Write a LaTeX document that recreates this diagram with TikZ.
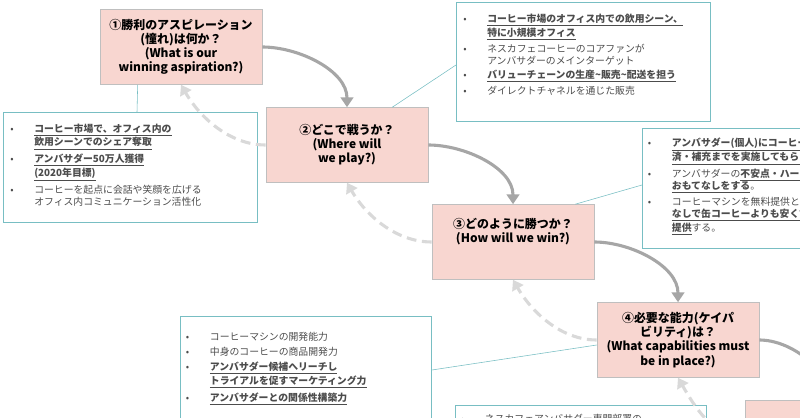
\documentclass[tikz,border=0pt]{standalone}
\usepackage{fontspec}
\setmainfont{Noto Sans CJK JP}
\usetikzlibrary{arrows.meta,calc}
\definecolor{pinkbox}{RGB}{248,214,208}
\definecolor{tealline}{RGB}{120,190,195}
\tikzset{
  stepbox/.style={draw=black!25,fill=pinkbox,minimum width=4.05cm,minimum height=1.875cm,
    align=center,font=\fontsize{8.5}{10}\selectfont\bfseries,inner sep=2pt},
  info/.style={draw=tealline,fill=white,anchor=north west,align=left,text=black!70,
    font=\fontsize{7}{8.6}\selectfont,inner sep=4pt},
  link/.style={tealline,thin},
  go/.style={black!35,line width=2.2pt,-{Triangle[length=7pt,width=9pt]}},
  back/.style={black!15,line width=2.2pt,dash pattern=on 7pt off 4pt,-{Triangle[length=7pt,width=9pt]}}
}
\newcommand{\itm}[1]{\makebox[6mm][l]{\textbullet}\parbox[t]{5.4cm}{#1}\\[2pt]}
\newcommand{\bu}[1]{\textbf{\underline{#1}}}
\begin{document}
\begin{tikzpicture}[x=0.025cm,y=-0.025cm]
\useasboundingbox (0,0) rectangle (800,418);
\clip (0,0) rectangle (800,418);
% step boxes
\node[stepbox] (s1) at (181,47)  {①勝利のアスピレーション\\(憧れ)は何か？\\(What is our\\winning aspiration?)};
\node[stepbox] (s2) at (347,145) {②どこで戦うか？\\(Where will\\we play?)};
\node[stepbox] (s3) at (513,242) {③どのように勝つか？\\(How will we win?)\\[6pt]};
\node[stepbox] (s4) at (678,340) {④必要な能力(ケイパ\\ビリティ)は？\\(What capabilities must\\be in place?)};
\node[stepbox] (s5) at (826,438) {⑤};
% info boxes
\node[info,minimum width=6.35cm,minimum height=2.75cm] (i1) at (3,112) {%
\itm{\bu{コーヒー市場で、オフィス内の}\\\bu{飲用シーンでのシェア奪取}}
\itm{\bu{アンバサダー50万人獲得}\\\bu{(2020年目標)}}
\itm{コーヒーを起点に会話や笑顔を広げる\\オフィス内コミュニケーション活性化}};
\node[info,minimum width=6.35cm,minimum height=2.98cm] (i2) at (456,2) {%
\itm{\bu{コーヒー市場のオフィス内での飲用シーン、}\\\bu{特に小規模オフィス}}
\itm{ネスカフェコーヒーのコアファンが\\アンバサダーのメインターゲット}
\itm{\bu{バリューチェーンの生産\textasciitilde 販売\textasciitilde 配送を担う}}
\itm{ダイレクトチャネルを通じた販売}};
\node[info,minimum width=4.3cm,minimum height=3cm] (i3) at (642,128) {%
\itm{\bu{アンバサダー(個人)にコーヒーマシンの設置・決}\\\bu{済・補充までを実施してもらう}}
\itm{アンバサダーの\bu{不安点・ハードルを取り除く}\\\bu{おもてなしをする}。}
\itm{コーヒーマシンを無料提供とする。\\\bu{なしで缶コーヒーよりも安くておいしいコーヒーを}\\\bu{提供}する。}};
\node[info,minimum width=5.1cm,minimum height=2.9cm] (i4) at (180,316) {%
\itm{コーヒーマシンの開発能力}
\itm{中身のコーヒーの商品開発力}
\itm{\bu{アンバサダー候補へリーチし}\\\bu{トライアルを促すマーケティング力}}
\itm{\bu{アンバサダーとの関係性構築力}}};
\node[info,minimum width=3.7cm,minimum height=1cm] (i5) at (455,405) {%
\itm{ネスカフェアンバサダー専門部署の}};
% links
\draw[link] ($(i1.north west)+(134,0)$) -- ($(s1.south west)+(38,0)$);
\draw[link] ($(i2.north west)+(0,63)$) -- ($(s2.north east)+(-36,0)$);
\draw[link] ($(i3.north west)+(0,57)$) -- ($(s3.north east)+(-19,0)$);
\draw[link] ($(i4.north east)+(0,54)$) -- ($(s4.west)+(0,5)$);
% forward arrows
\draw[go] (s1.east) to[out=0,in=90,looseness=0.9] (s2.north);
\draw[go] (s2.east) to[out=0,in=90,looseness=0.9] (s3.north);
\draw[go] (s3.east) to[out=0,in=90,looseness=0.9] (s4.north);
\draw[go] (s4.east) to[out=0,in=90,looseness=0.9] (s5.north);
% back arrows
\draw[back] (s2.west) to[out=180,in=-60,looseness=0.9] (s1.south);
\draw[back] (s3.west) to[out=180,in=-60,looseness=0.9] (s2.south);
\draw[back] (s4.west) to[out=180,in=-60,looseness=0.9] (s3.south);
\draw[back] (s5.west) to[out=180,in=-60,looseness=0.9] (s4.south);
\end{tikzpicture}
\end{document}
